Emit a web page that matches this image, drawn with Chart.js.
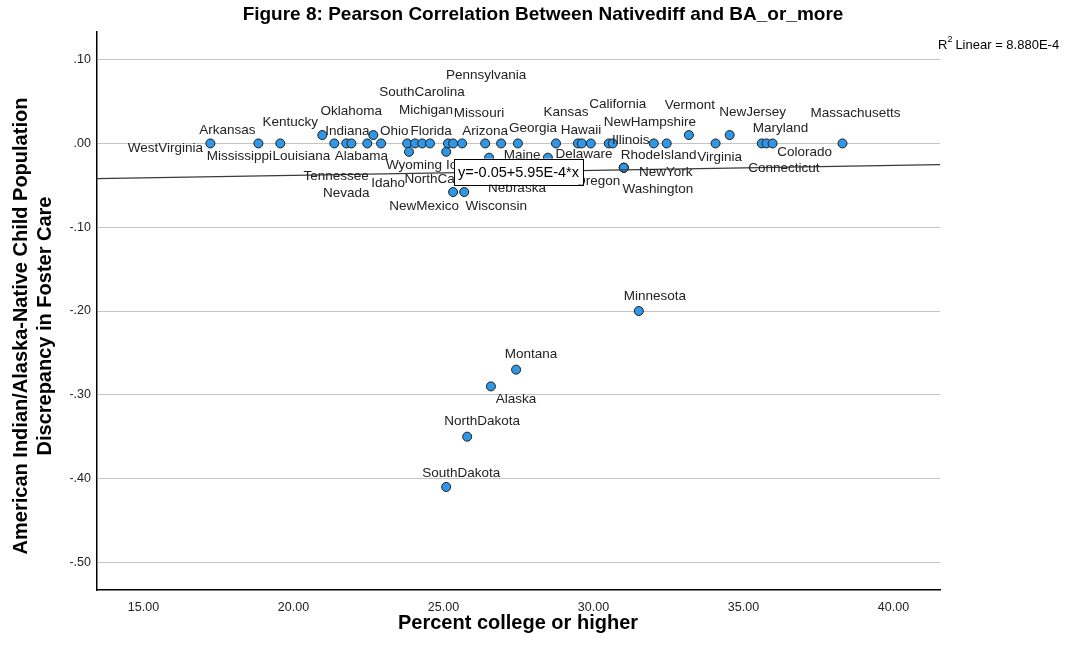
<!DOCTYPE html>
<html>
<head>
<meta charset="utf-8">
<script src="https://cdn.jsdelivr.net/npm/chart.js@4.4.0/dist/chart.umd.min.js"></script>
<style>
html, body { margin: 0; padding: 0; background: #fff; }
</style>
</head>
<body>
<canvas id="myChart" width="1073" height="656"></canvas>
<script>
// Data
const states = [
    'WestVirginia', 'Arkansas', 'Mississippi', 'Kentucky', 'Louisiana', 'Nevada', 'Alabama',
    'Indiana', 'Oklahoma', 'Tennessee', 'Idaho', 'Wyoming', 'SouthCarolina', 'Ohio', 'Michigan',
    'Iowa', 'Missouri', 'Florida', 'Arizona', 'NewMexico', 'Wisconsin', 'NorthCarolina', 'Maine',
    'Pennsylvania', 'Georgia', 'Delaware', 'Kansas', 'Hawaii', 'Utah', 'California', 'Illinois',
    'RhodeIsland', 'NewYork', 'Washington', 'Oregon', 'NewHampshire', 'Texas', 'Vermont',
    'Virginia', 'NewJersey', 'Connecticut', 'Maryland', 'Colorado', 'Massachusetts',
    'Minnesota', 'Montana', 'Alaska', 'NorthDakota', 'SouthDakota', 'Nebraska'
];
const collegePct = [
    17.23, 18.83, 19.56, 20.96, 21.36, 21.76, 21.93,
    22.46, 22.66, 22.92, 23.79, 23.85, 24.05, 24.29, 24.55,
    25.09, 25.15, 25.32, 25.62, 25.32, 25.69, 26.39, 26.52,
    26.92, 27.48, 28.48, 28.75, 29.48, 29.61, 29.91, 30.51,
    30.64, 31.01, 31.01, 31.01, 32.01, 32.44, 33.18,
    34.07, 34.54, 35.61, 35.77, 35.97, 38.30,
    31.51, 27.42, 26.58, 25.79, 25.09, 27.45
];
const nativeDiff = [
    0, 0, 0, 0.01, 0, 0, 0,
    0, 0.01, 0, 0, -0.01, 0, 0, 0,
    -0.01, 0, 0, 0, -0.058, -0.058, 0, -0.017,
    0, 0, -0.017, 0, 0, 0, 0, 0,
    0, -0.029, -0.029, -0.029, 0, 0, 0.01,
    0, 0.01, 0, 0, 0, 0,
    -0.20, -0.27, -0.29, -0.35, -0.41, -0.03
];
const xTicks = [15, 20, 25, 30, 35, 40];
const yTicks = [0.1, 0, -0.1, -0.2, -0.3, -0.4, -0.5];
const fitIntercept = -0.05;
const fitSlope = 5.95e-4;
const rSquaredText = 'Linear = 8.880E-4';
const xMin = 13.45, xMax = 41.55;
const yMin = -0.533, yMax = 0.133;

// where each state name sits relative to its point (pixels), like SPSS placed them
const labelOffset = {
    WestVirginia: [-45, 5], Arkansas: [-31, -13], Mississippi: [-41, 13], Kentucky: [-32, -13],
    Louisiana: [-33, 13], Nevada: [0, 50], Alabama: [10, 13], Indiana: [-20, -12],
    Oklahoma: [-22, -24], Tennessee: [-45, 33], Idaho: [-19, 40], Wyoming: [5, 13],
    SouthCarolina: [7, -51], Ohio: [-28, -12], Michigan: [-4, -33], Iowa: [14, 13],
    Missouri: [31, -30], Florida: [-22, -12], Arizona: [23, -12], NewMexico: [-29, 14],
    Wisconsin: [32, 14], NorthCarolina: [-39, 36], Maine: [33, -2], Pennsylvania: [-15, -68],
    Georgia: [15, -15], Delaware: [36, -3], Kansas: [10, -31], Hawaii: [3, -13],
    California: [27, -39], Illinois: [22, -3], RhodeIsland: [46, 12], NewYork: [42, 5],
    Washington: [34, 22], Oregon: [-26, 14], NewHampshire: [-4, -21], Vermont: [1, -30],
    Virginia: [4, 14], NewJersey: [23, -23], Connecticut: [22, 25], Maryland: [14, -15],
    Colorado: [32, 9], Massachusetts: [13, -30], Minnesota: [16, -15], Montana: [15, -15],
    Alaska: [25, 13], NorthDakota: [15, -15], SouthDakota: [15, -14], Nebraska: [0, 20]
};

const FONT = '"Liberation Sans", Arial, sans-serif';

function fitValue(x) {
    return fitIntercept + fitSlope * x;
}

function formatY(v) {
    const s = Math.abs(v).toFixed(2).replace(/^0/, '');
    return (v < -1e-9 ? '-' : '') + s;
}

const points = collegePct.map((x, i) => ({ x: x, y: nativeDiff[i] }));

const decorations = {
    id: 'decorations',
    afterDatasetsDraw(chart) {
        const ctx = chart.ctx;
        const meta = chart.getDatasetMeta(1);
        ctx.save();
        ctx.font = '13.5px ' + FONT;
        ctx.fillStyle = '#222';
        ctx.textAlign = 'center';
        ctx.textBaseline = 'middle';
        states.forEach((name, i) => {
            const off = labelOffset[name];
            if (!off) return;
            const el = meta.data[i];
            ctx.fillText(name, el.x + off[0], el.y + off[1]);
        });

        // equation box on the fit line
        const xs = chart.scales.x, ys = chart.scales.y;
        const midX = (xMin + xMax) / 2;
        const cx = xs.getPixelForValue(midX);
        const cy = ys.getPixelForValue(fitValue(midX));
        const eq = 'y=-0.05+5.95E-4*x';
        ctx.font = '14.5px ' + FONT;
        const w = ctx.measureText(eq).width + 8;
        const h = 26;
        ctx.fillStyle = '#fff';
        ctx.fillRect(cx - w / 2, cy - h / 2, w, h);
        ctx.strokeStyle = '#000';
        ctx.lineWidth = 1;
        ctx.strokeRect(Math.round(cx - w / 2) + 0.5, Math.round(cy - h / 2) + 0.5, Math.round(w), h);
        ctx.fillStyle = '#000';
        ctx.fillText(eq, cx, cy + 1);
        ctx.restore();
    },
    afterDraw(chart) {
        const ctx = chart.ctx;
        ctx.save();
        ctx.fillStyle = '#000';
        ctx.textBaseline = 'middle';
        ctx.textAlign = 'center';

        ctx.font = 'bold 19px ' + FONT;
        ctx.fillText('Figure 8: Pearson Correlation Between Nativediff and BA_or_more', 543, 15);

        ctx.font = 'bold 20px ' + FONT;
        ctx.fillText('Percent college or higher', 518, 623);

        ctx.save();
        ctx.translate(21, 326);
        ctx.rotate(-Math.PI / 2);
        ctx.fillText('American Indian/Alaska-Native Child Population', 0, 0);
        ctx.restore();
        ctx.save();
        ctx.translate(45, 326);
        ctx.rotate(-Math.PI / 2);
        ctx.fillText('Discrepancy in Foster Care', 0, 0);
        ctx.restore();

        // R squared note
        ctx.textAlign = 'left';
        ctx.font = '13px ' + FONT;
        let x = 938;
        ctx.fillText('R', x, 45);
        x += ctx.measureText('R').width;
        ctx.font = '9px ' + FONT;
        ctx.fillText('2', x, 40);
        x += ctx.measureText('2').width + 3;
        ctx.font = '13px ' + FONT;
        ctx.fillText(rSquaredText, x, 45);
        ctx.restore();
    }
};

const ctx = document.getElementById('myChart').getContext('2d');
const myChart = new Chart(ctx, {
    data: {
        datasets: [{
            type: 'line',
            data: [{ x: xMin, y: fitValue(xMin) }, { x: xMax, y: fitValue(xMax) }],
            borderColor: '#3a3a3a',
            borderWidth: 1.2,
            pointRadius: 0,
            fill: false
        }, {
            type: 'scatter',
            data: points,
            backgroundColor: '#2f97e8',
            borderColor: '#1c1c1c',
            borderWidth: 1,
            pointRadius: 4.5
        }]
    },
    options: {
        responsive: false,
        animation: false,
        devicePixelRatio: 1,
        layout: { padding: { top: 32, right: 133, left: 0, bottom: 0 } },
        plugins: {
            legend: { display: false },
            tooltip: { enabled: false },
            title: { display: false }
        },
        scales: {
            x: {
                type: 'linear',
                min: xMin,
                max: xMax,
                grid: { display: false, drawTicks: false },
                border: { display: true, color: '#000', width: 1.5 },
                ticks: {
                    color: '#222',
                    font: { family: FONT, size: 12.5 },
                    padding: 10,
                    callback: v => v.toFixed(2)
                },
                afterBuildTicks: axis => { axis.ticks = xTicks.map(v => ({ value: v })); },
                afterFit: scale => { scale.height = 66; }
            },
            y: {
                type: 'linear',
                min: yMin,
                max: yMax,
                grid: { color: '#c4c4c4', lineWidth: 1, drawTicks: false },
                border: { display: true, color: '#000', width: 1.5 },
                ticks: {
                    color: '#222',
                    font: { family: FONT, size: 12.5 },
                    padding: 6,
                    callback: v => formatY(v)
                },
                afterBuildTicks: axis => { axis.ticks = yTicks.map(v => ({ value: v })); },
                afterFit: scale => { scale.width = 97; }
            }
        }
    },
    plugins: [decorations]
});
</script>
</body>
</html>
